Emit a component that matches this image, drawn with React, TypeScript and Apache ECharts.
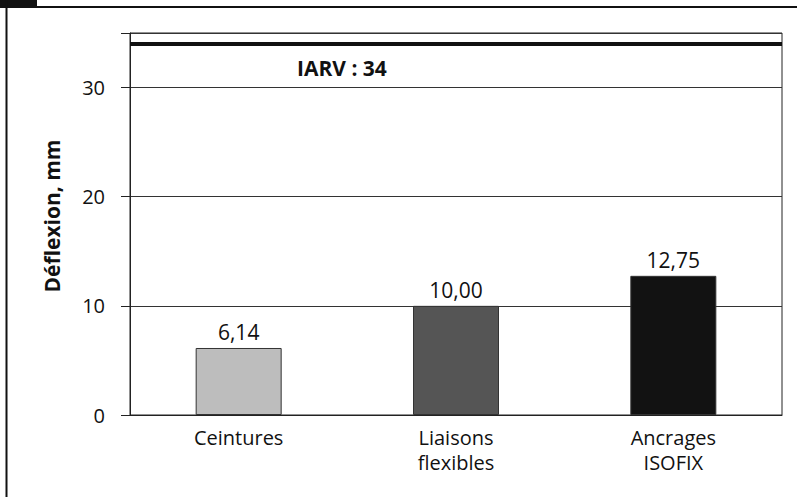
import React, { useEffect, useRef } from "react";
import * as echarts from "echarts";

const categories = ["Ceintures", "Liaisons\nflexibles", "Ancrages\nISOFIX"];
const values = [6.14, 10.0, 12.75];
const valueLabels = ["6,14", "10,00", "12,75"];
const barColors = ["#bdbdbd", "#555555", "#121212"];
const iarvValue = 34;
const iarvLabel = "IARV : 34";
const yTicks = [0, 10, 20, 30];
const yName = "Déflexion, mm";

const FONT = "'Open Sans', Lato, sans-serif";

export default function App() {
  const ref = useRef<HTMLDivElement>(null);
  useEffect(() => {
    if (!ref.current) return;
    const chart = echarts.init(ref.current, undefined, { renderer: "svg" });
    chart.setOption({
      animation: false,
      backgroundColor: "#ffffff",
      textStyle: { fontFamily: FONT },
      grid: {
        left: 130,
        right: 15,
        top: 33,
        bottom: 82,
        show: true,
        borderColor: "#222",
        borderWidth: 1,
      },
      graphic: [
        { type: "rect", shape: { x: 0, y: 0, width: 37, height: 7 }, style: { fill: "#111" } },
        { type: "line", shape: { x1: 0, y1: 7, x2: 797, y2: 7 }, style: { stroke: "#111", lineWidth: 2 } },
        { type: "line", shape: { x1: 6.5, y1: 0, x2: 6.5, y2: 497 }, style: { stroke: "#111", lineWidth: 2 } },
      ],
      xAxis: {
        type: "category",
        data: categories,
        axisLine: { lineStyle: { color: "#222", width: 1 } },
        axisTick: { show: false },
        axisLabel: {
          color: "#111",
          fontSize: 20,
          lineHeight: 25,
          margin: 10,
          fontFamily: FONT,
        },
      },
      yAxis: {
        type: "value",
        min: 0,
        max: 35,
        interval: 10,
        name: yName,
        nameLocation: "middle",
        nameGap: 68,
        nameRotate: 90,
        nameTextStyle: {
          color: "#111",
          fontSize: 21,
          fontWeight: "bold",
          fontFamily: FONT,
          padding: [0, 0, 0, 16],
        },
        axisLine: { show: true, lineStyle: { color: "#222", width: 1 } },
        axisTick: {
          show: true,
          inside: false,
          length: 9,
          lineStyle: { color: "#222" },
          customValues: [0, 10, 20, 30, 35],
        },
        axisLabel: {
          color: "#111",
          fontSize: 20,
          margin: 25,
          fontFamily: FONT,
          customValues: yTicks,
        },
        splitLine: { show: true, lineStyle: { color: "#333", width: 1 } },
      },
      series: [
        {
          type: "bar",
          barWidth: 86,
          data: values.map((v, i) => ({
            value: v,
            itemStyle: { color: barColors[i], borderColor: "#333", borderWidth: 1 },
            label: {
              show: true,
              position: "top",
              distance: 5,
              formatter: valueLabels[i],
              color: "#111",
              fontSize: 21,
              fontFamily: FONT,
            },
          })),
          markLine: {
            silent: true,
            symbol: "none",
            lineStyle: { color: "#111", width: 4, type: "solid" },
            label: {
              show: true,
              position: "insideStartBottom",
              formatter: iarvLabel,
              color: "#111",
              fontSize: 21,
              fontWeight: "bold",
              fontFamily: FONT,
              padding: [9, 0, 0, 162],
            },
            data: [{ yAxis: iarvValue }],
          },
        },
      ],
    });
    return () => chart.dispose();
  }, []);
  return (
    <div
      ref={ref}
      style={{ position: "fixed", left: 0, top: 0, width: 797, height: 497 }}
    />
  );
}
